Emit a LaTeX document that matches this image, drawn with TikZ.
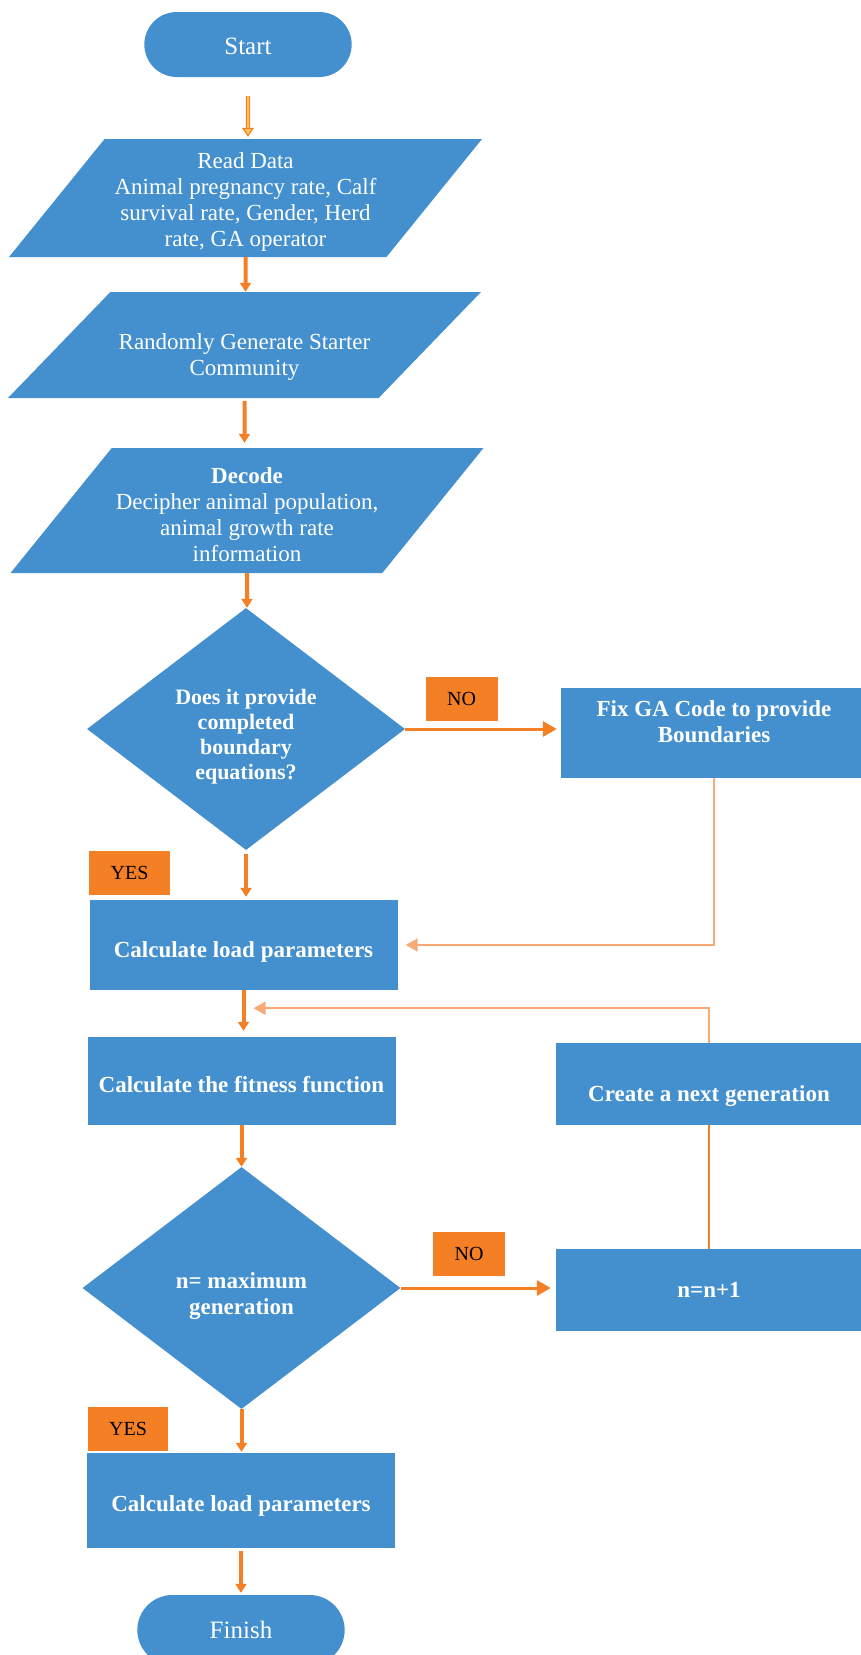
\documentclass[tikz,border=0pt]{standalone}
\usepackage{fontspec}
\setmainfont{Liberation Serif}
\usepackage{tikz}
\usetikzlibrary{shapes, arrows.meta, positioning}
\definecolor{flowblue}{RGB}{68,144,206}
\definecolor{floworange}{RGB}{244,127,36}
\definecolor{lightorange}{RGB}{248,170,118}
\definecolor{paleorange}{RGB}{252,196,90}
% text set a little lower (or higher) than the node centre
\newcommand{\lowtext}[2]{\raisebox{-#1}[\height][\depth]{\begin{tabular}{@{}c@{}}#2\end{tabular}}}
\tikzset{
    terminal/.style={rounded rectangle, fill=flowblue, text=white, minimum width=214pt, minimum height=65pt, font=\fontsize{25}{30}\selectfont},
    io/.style={trapezium, trapezium left angle=51, trapezium right angle=129, trapezium stretches body, fill=flowblue, text=white, align=center, minimum width=473pt, inner xsep=0pt, font=\fontsize{23}{26}\selectfont},
    decision/.style={diamond, fill=flowblue, text=white, align=center, inner sep=0pt, minimum width=318pt, minimum height=242pt, font=\fontsize{22}{25}\selectfont\bfseries},
    process/.style={rectangle, fill=flowblue, text=white, align=center, minimum width=308pt, minimum height=88pt, font=\fontsize{23}{26}\selectfont\bfseries},
    tag/.style={rectangle, fill=floworange, text=black, minimum width=72pt, minimum height=44pt, font=\fontsize{20}{24}\selectfont},
    arrow/.style={floworange, line width=4pt, -{Triangle[length=9pt, width=11pt]}},
    hollowarrow/.style={draw=floworange, double=paleorange, double distance=2pt, line width=1.2pt, -{Triangle[length=9pt, width=12pt, fill=paleorange]}},
    sidearrow/.style={floworange, line width=3pt, -{Triangle[length=14pt, width=15pt]}},
    backarrow/.style={lightorange, line width=1.5pt, -{Triangle[length=12pt, width=13pt]}},
    plainline/.style={floworange, line width=2pt}
}
\begin{document}
\begin{tikzpicture}[x=1pt, y=-1pt]
    \useasboundingbox (0,0) rectangle (860,1655);

    \node (start) [terminal] at (248,44.5) {\lowtext{4pt}{Start}};
    \node (read) [io, inner ysep=7pt] at (245.5,198) {\lowtext{4pt}{Read Data\\Animal pregnancy rate, Calf\\survival rate, Gender, Herd\\rate, GA operator}};
    \node (gen) [io, trapezium left angle=46, trapezium right angle=134, inner ysep=27pt] at (244.5,345) {\lowtext{12pt}{Randomly Generate Starter\\Community}};
    \node (decode) [io, inner ysep=10.5pt] at (247,510.5) {\lowtext{7pt}{\textbf{Decode}\\Decipher animal population,\\animal growth rate\\information}};
    \node (check) [decision] at (246,729) {\lowtext{8pt}{Does it provide\\completed\\boundary\\equations?}};
    \node (fix) [process, minimum width=306pt, minimum height=90pt] at (714,733) {\lowtext{-8.5pt}{Fix GA Code to provide\\Boundaries}};
    \node (load1) [process, minimum height=90pt] at (243.5,945) {\lowtext{7pt}{Calculate load parameters}};
    \node (fitness) [process] at (241.5,1081) {\lowtext{6pt}{Calculate the fitness function}};
    \node (nextgen) [process, minimum width=306pt, minimum height=82pt] at (709,1084) {\lowtext{12pt}{Create a next generation}};
    \node (maxgen) [decision, font=\fontsize{23}{26}\selectfont\bfseries] at (241.5,1288) {\lowtext{8pt}{n= maximum\\generation}};
    \node (count) [process, minimum width=306pt, minimum height=82pt] at (709,1290) {n=n+1};
    \node (load2) [process, minimum height=95pt] at (241,1500.5) {\lowtext{6pt}{Calculate load parameters}};
    \node (finish) [terminal, minimum height=70pt] at (241,1630) {\lowtext{2pt}{Finish}};

    % Labels
    \node (no1) [tag] at (461.5,698.5) {NO};
    \node (yes1) [tag, minimum width=81pt] at (129.5,872.5) {YES};
    \node (no2) [tag] at (469,1254) {NO};
    \node (yes2) [tag, minimum width=80pt] at (128,1428.5) {YES};

    \draw [hollowarrow, shorten <=19pt, shorten >=2pt] (start) -- (start |- read.north);
    \draw [arrow] (read) -- (read |- gen.north);
    \draw [arrow, shorten <=3pt, shorten >=5pt] (gen) -- (gen |- decode.north);
    \draw [arrow] (decode) -- (decode |- check.north);
    \draw [sidearrow, shorten >=4pt] (check.east) -- (check.east -| fix.west);
    \draw [arrow, shorten <=4pt, shorten >=3pt] (check) -- (check |- load1.north);
    \draw [arrow, shorten >=6pt] (load1) -- (load1 |- fitness.north);
    \draw [arrow] (fitness) -- (fitness |- maxgen.north);
    \draw [sidearrow, shorten >=5pt] (maxgen.east) -- (maxgen.east -| count.west);
    \draw [arrow, shorten >=1pt] (maxgen) -- (maxgen |- load2.north);
    \draw [arrow, shorten <=3pt, shorten >=2pt] (load2) -- (load2 |- finish.north);

    \draw [backarrow, shorten >=8pt] (fix.south) |- (load1.east);
    \coordinate (join) at ([yshift=-18pt]load1.south);
    \draw [backarrow, shorten >=10pt] (nextgen.north) |- (join);
    \draw [plainline] (count) -- (nextgen);
\end{tikzpicture}
\end{document}
